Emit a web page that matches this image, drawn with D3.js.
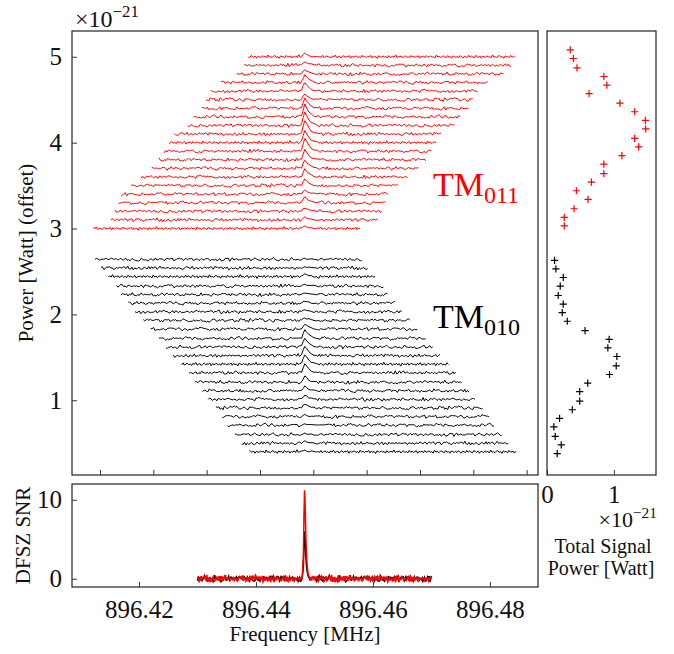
<!DOCTYPE html>
<html>
<head>
<meta charset="utf-8">
<script src="https://cdn.jsdelivr.net/npm/d3@7"></script>
<style>
  body { margin: 0; background: #fff; }
  svg { font-family: "Liberation Serif", serif; }
</style>
</head>
<body>
<div id="chart"></div>
<script>
// waterfall of TM010 / TM011 spectra, total power on the side, SNR below

// trace baselines (x1e-21 W, offset), bottom to top
const redOffsets = [3.00, 3.10, 3.20, 3.30, 3.40, 3.50, 3.60, 3.70, 3.80, 3.90, 4.00,
                    4.10, 4.20, 4.30, 4.40, 4.50, 4.60, 4.70, 4.80, 4.90, 5.00];
const blackOffsets = [0.40, 0.50, 0.60, 0.71, 0.81, 0.91, 1.01, 1.11, 1.21, 1.32, 1.42, 1.52,
                      1.62, 1.72, 1.83, 1.93, 2.03, 2.13, 2.23, 2.33, 2.44, 2.54, 2.64];

// start of each trace window (kHz on the waterfall axis), bottom to top
const redStarts = [-1.26, 2.01, 2.81, 3.43, 3.94, 5.81, 7.69, 9.69, 11.06, 12.06, 12.99,
                   13.93, 16.44, 17.49, 19.07, 19.88, 20.76, 22.69, 25.63, 27.06, 27.80];
const blackStarts = [27.99, 26.57, 25.31, 23.87, 22.93, 21.75, 20.31, 19.18, 17.81, 16.69, 15.32, 13.74,
                     12.38, 11.06, 9.51, 8.12, 6.56, 5.31, 3.94, 3.13, 1.56, 0.19, -0.94];
const traceWidth = 50;   // kHz
const peakPos = 38.3;    // kHz

// total signal power (x1e-21 W) and its y position, bottom to top
const redPower = [0.258, 0.258, 0.404, 0.614, 0.439, 0.664, 0.850, 0.850, 1.120, 1.371, 1.311,
                  1.476, 1.471, 1.311, 1.090, 0.629, 0.895, 0.850, 0.449, 0.394, 0.348];
const redPowerY = [3.03, 3.13, 3.23, 3.34, 3.44, 3.54, 3.64, 3.75, 3.85, 3.95, 4.05,
                   4.16, 4.26, 4.36, 4.46, 4.57, 4.67, 4.77, 4.87, 4.98, 5.08];
const blackPower = [0.153, 0.213, 0.123, 0.103, 0.188, 0.378, 0.489, 0.489, 0.609, 0.935, 1.035, 1.045,
                    0.910, 0.930, 0.569, 0.303, 0.228, 0.243, 0.168, 0.198, 0.243, 0.133, 0.113];
const blackPowerY = [0.38, 0.48, 0.58, 0.69, 0.79, 0.89, 0.99, 1.10, 1.20, 1.30, 1.40, 1.51,
                     1.61, 1.71, 1.81, 1.92, 2.02, 2.12, 2.22, 2.33, 2.43, 2.53, 2.63];

// line shape of the peak (relative height at offsets in kHz)
const peakOffsets = [-0.5, -0.2, 0.1, 0.45, 0.85, 1.3, 1.8, 2.3];
const peakShape = [0.1, 0.6, 1.0, 0.7, 0.42, 0.22, 0.1, 0.04];
const peakScale = 0.11;

// SNR panel
const snrStart = 896.430, snrEnd = 896.470, snrPeakFreq = 896.4483;
const snrPeakRed = 11.2, snrPeakBlack = 6.0;
const snrOffsets = [-0.0004, -0.0002, -0.0001, 0, 0.0001, 0.0002, 0.0003, 0.00045, 0.0006, 0.0008];
const snrShape = [0.02, 0.25, 0.7, 1.0, 0.85, 0.55, 0.32, 0.15, 0.06, 0.02];

// noise (relative units)
const noise = [
  0.3,-0.5,0.8,-0.2,-0.9,0.4,0.1,-0.6,1.0,-0.3,
  0.5,-0.1,-0.7,0.9,0.2,-0.4,0.6,-1.0,0.3,0.0,
  -0.5,0.7,-0.2,0.4,-0.8,1.2,-0.3,0.1,-0.6,0.5,
  0.8,-0.4,0.2,-1.1,0.6,-0.1,0.3,-0.7,0.9,-0.2,
  0.0,0.5,-0.9,0.4,-0.3,0.7,-0.5,1.4,-0.4,0.2,
  -0.6,0.3,0.8,-0.8,0.1,-0.2,0.6,-0.5,0.4,-1.3,
  0.7,-0.1,0.2,-0.4,0.9,-0.7,0.3,0.5,-0.3,0.1,
  -0.8,0.6,-0.2,1.1,-0.6,0.0,0.4,-0.9,0.2,0.7,
  -0.4,0.3,-0.1,0.8,-1.0,0.5,-0.3,0.2,0.6,-0.5,
  0.1,-0.7,1.0,-0.2,0.4,-0.6,0.3,-0.1,0.9,-0.8,
  0.5,-0.3,0.2,-1.2,0.7,0.1,-0.4,0.6,-0.2,0.3,
  -0.9,0.8,-0.5,0.0,0.4,-0.3,1.3,-0.6,0.2,-0.1,
  0.6,-0.8,0.3,0.5,-0.4,0.1,-0.7,0.9,-0.2,0.4,
  -0.5,0.2,0.7,-1.0,0.3,-0.1,0.5,-0.6,0.8,-0.3,
  0.0,0.6,-0.4,0.2,-0.9,1.1,-0.2,0.4,-0.7,0.3,
  0.5,-0.1,-0.6,0.8,-0.3,0.2,-1.0,0.6,0.1,-0.4
];
const strides = [1, 3, 7, 9, 11, 13, 17, 19, 21, 23];

const mainTicksY = [1, 2, 3, 4, 5];
const mainTicksX = [0, 10, 20, 30, 40, 50, 60, 70, 80];
const freqTicks = [896.42, 896.44, 896.46, 896.48];
const snrTicks = [0, 10];
const sideTicks = [0, 1];

const W = 674, H = 654;
const main = { l: 72, r: 538, t: 31, b: 475 };
const bot = { l: 72, r: 538, t: 484, b: 587 };
const side = { l: 547, r: 656, t: 31, b: 475 };
const spine = "#333";

let svg = d3.select("#chart").append("svg")
    .attr("width", W)
    .attr("height", H)

let xMain = d3.scaleLinear().domain([-5.25, 82.125]).range([main.l, main.r]);
let yMain = d3.scaleLinear().domain([0.13, 5.30]).range([main.b, main.t]);
let xFreq = d3.scaleLinear().domain([896.40855, 896.48821]).range([bot.l, bot.r]);
let ySnr = d3.scaleLinear().domain([-1.05, 12.0]).range([bot.b, bot.t]);
let xSide = d3.scaleLinear().domain([0, 1.63]).range([side.l, side.r]);

function buildTrace(start, base, power, idx, seed) {
    let n = 190, step = traceWidth / n
    let stride = strides[idx % strides.length]
    let pts = []
    for (let j = 0; j <= n; j++) {
        let u = start + j * step
        if (u > peakPos - 0.7 && u < peakPos + 2.5) continue
        let v = noise[(j * stride + idx * 37 + seed) % noise.length]
        pts.push([u, base + v * 0.017])
    }
    peakOffsets.forEach((o, k) => {
        let v = noise[(k * 5 + idx * 11 + seed) % noise.length]
        pts.push([peakPos + o, base + power * peakScale * peakShape[k] + v * 0.008])
    })
    pts.sort((a, b) => a[0] - b[0])
    return pts
}

function buildSnr(peak, amp, stride, seed) {
    let n = 300, step = (snrEnd - snrStart) / n
    let pts = []
    for (let j = 0; j <= n; j++) {
        let f = snrStart + j * step
        if (f > snrPeakFreq - 0.0005 && f < snrPeakFreq + 0.0009) continue
        pts.push([f, noise[(j * stride + seed) % noise.length] * amp])
    }
    snrOffsets.forEach((o, k) => pts.push([snrPeakFreq + o, peak * snrShape[k]]))
    pts.sort((a, b) => a[0] - b[0])
    return pts
}

// clip paths
let defs = svg.append("defs")
defs.append("clipPath").attr("id", "clipMain").append("rect")
    .attr("x", main.l).attr("y", main.t).attr("width", main.r - main.l).attr("height", main.b - main.t)
defs.append("clipPath").attr("id", "clipBot").append("rect")
    .attr("x", bot.l).attr("y", bot.t).attr("width", bot.r - bot.l).attr("height", bot.b - bot.t)

// waterfall traces
let lineMain = d3.line().x(d => xMain(d[0])).y(d => yMain(d[1]))
let traces = svg.append("g").attr("clip-path", "url(#clipMain)")

blackOffsets.forEach((o, i) => {
    traces.append("path")
        .datum(buildTrace(blackStarts[i], o, blackPower[i], i, 13))
        .attr("d", lineMain)
        .attr("fill", "none")
        .attr("stroke", "#000")
        .attr("stroke-width", 1)
})
redOffsets.forEach((o, i) => {
    traces.append("path")
        .datum(buildTrace(redStarts[i], o, redPower[i], i, 71))
        .attr("d", lineMain)
        .attr("fill", "none")
        .attr("stroke", "#f00")
        .attr("stroke-width", 1)
})

// side panel markers
let plus = "M-3.6,0H3.6M0,-3.6V3.6"
svg.append("g").selectAll(null)
    .data(blackPower.map((p, i) => [p, blackPowerY[i]]))
    .enter().append("path")
    .attr("d", plus)
    .attr("transform", d => `translate(${xSide(d[0])},${yMain(d[1])})`)
    .attr("stroke", "#000")
    .attr("stroke-width", 1.2)
svg.append("g").selectAll(null)
    .data(redPower.map((p, i) => [p, redPowerY[i]]))
    .enter().append("path")
    .attr("d", plus)
    .attr("transform", d => `translate(${xSide(d[0])},${yMain(d[1])})`)
    .attr("stroke", "#f00")
    .attr("stroke-width", 1.2)

// SNR traces
let lineSnr = d3.line().x(d => xFreq(d[0])).y(d => ySnr(d[1]))
let snrG = svg.append("g").attr("clip-path", "url(#clipBot)")
snrG.append("path")
    .datum(buildSnr(snrPeakBlack, 0.32, 7, 53))
    .attr("d", lineSnr)
    .attr("fill", "none")
    .attr("stroke", "#000")
    .attr("stroke-width", 1.5)
snrG.append("path")
    .datum(buildSnr(snrPeakRed, 0.34, 3, 11))
    .attr("d", lineSnr)
    .attr("fill", "none")
    .attr("stroke", "#f00")
    .attr("stroke-width", 1.5)

// axes
function styleAxis(g, fs) {
    g.attr("font-family", null).attr("font-size", null)
    g.select(".domain").remove()
    g.selectAll(".tick line").attr("stroke", spine).attr("stroke-width", 1)
    g.selectAll(".tick text").attr("font-size", fs).attr("fill", "#111")
}

svg.append("g").attr("transform", `translate(${main.l},0)`)
    .call(d3.axisLeft(yMain).tickValues(mainTicksY).tickSize(-5).tickPadding(10).tickFormat(d3.format("d")))
    .call(g => styleAxis(g, 25))
svg.append("g").attr("transform", `translate(0,${main.b})`)
    .call(d3.axisBottom(xMain).tickValues(mainTicksX).tickSize(-5).tickFormat(""))
    .call(g => styleAxis(g, 25))
svg.append("g").attr("transform", `translate(${bot.l},0)`)
    .call(d3.axisLeft(ySnr).tickValues(snrTicks).tickSize(-5).tickPadding(10).tickFormat(d3.format("d")))
    .call(g => styleAxis(g, 25))
svg.append("g").attr("transform", `translate(0,${bot.b})`)
    .call(d3.axisBottom(xFreq).tickValues(freqTicks).tickSize(-5).tickPadding(13).tickFormat(d3.format(".2f")))
    .call(g => styleAxis(g, 25))
svg.append("g").attr("transform", `translate(0,${side.b})`)
    .call(d3.axisBottom(xSide).tickValues(sideTicks).tickSize(-5).tickPadding(10).tickFormat(d3.format("d")))
    .call(g => styleAxis(g, 25))

// frames
;[main, bot, side].forEach(p => {
    svg.append("rect")
        .attr("x", p.l).attr("y", p.t)
        .attr("width", p.r - p.l).attr("height", p.b - p.t)
        .attr("fill", "none")
        .attr("stroke", spine)
        .attr("stroke-width", 1.3)
})

// texts
function sciText(x, y, anchor, fs) {
    let t = svg.append("text").attr("x", x).attr("y", y)
        .attr("text-anchor", anchor).attr("font-size", fs).attr("fill", "#111")
    t.append("tspan").text("×10")
    t.append("tspan").attr("dy", -fs * 0.42).attr("font-size", fs * 0.7).text("−21")
    return t
}
sciText(75, 27, "start", 24)
sciText(657, 527, "end", 22)

svg.append("text")
    .attr("transform", `translate(26,${(main.t + main.b) / 2}) rotate(-90)`)
    .attr("text-anchor", "middle")
    .attr("dominant-baseline", "central")
    .attr("font-size", 21)
    .attr("fill", "#111")
    .text("Power [Watt] (offset)")

svg.append("text")
    .attr("transform", `translate(23,${(bot.t + bot.b) / 2}) rotate(-90)`)
    .attr("text-anchor", "middle")
    .attr("dominant-baseline", "central")
    .attr("font-size", 21)
    .attr("fill", "#111")
    .text("DFSZ SNR")

svg.append("text")
    .attr("x", (bot.l + bot.r) / 2).attr("y", 641)
    .attr("text-anchor", "middle")
    .attr("font-size", 21)
    .attr("fill", "#111")
    .text("Frequency [MHz]")

svg.append("text")
    .attr("x", 603).attr("y", 553)
    .attr("text-anchor", "middle")
    .attr("font-size", 20)
    .attr("fill", "#111")
    .text("Total Signal")
svg.append("text")
    .attr("x", 601).attr("y", 575)
    .attr("text-anchor", "middle")
    .attr("font-size", 20)
    .attr("fill", "#111")
    .text("Power [Watt]")

function tmLabel(y, sub, color) {
    let t = svg.append("text").attr("x", 433).attr("y", y)
        .attr("font-size", 34).attr("fill", color)
    t.append("tspan").text("TM")
    t.append("tspan").attr("dy", 7).attr("font-size", 24).text(sub)
}
tmLabel(196, "011", "#f00")
tmLabel(328, "010", "#000")
</script>
</body>
</html>
